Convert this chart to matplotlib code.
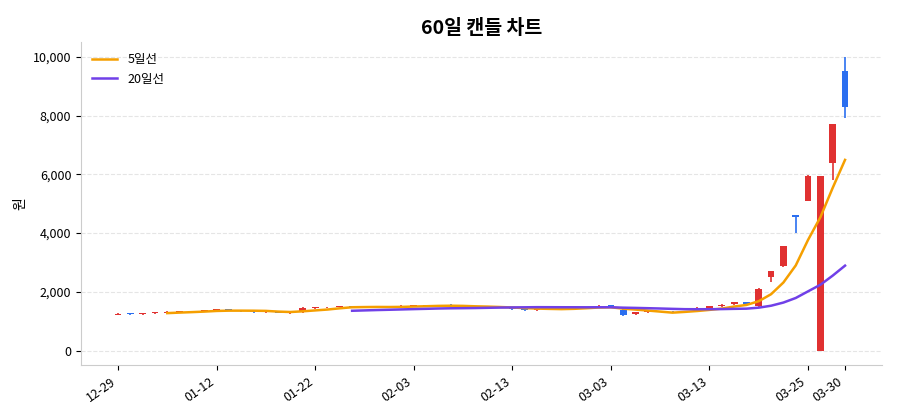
import matplotlib
matplotlib.use("Agg")
import matplotlib.pyplot as plt
import numpy as np
import pandas as pd

plt.rcParams['font.family'] = ['Noto Sans CJK KR', 'DejaVu Sans']

tick_idx = [0, 8, 16, 24, 32, 40, 48, 56, 59]
tick_labels = ["12-29", "01-12", "01-22", "02-03", "02-13", "03-03", "03-13", "03-25", "03-30"]

opens = [1230,1250,1240,1270,1290,1320,1330,1340,1380,1400,1360,1340,1300,1320,1280,1300,1440,1470,1490,1500,
         1500,1490,1480,1470,1520,1530,1550,1560,1500,1490,1480,1500,1460,1420,1380,1420,1420,1460,1460,1490,
         1540,1400,1240,1310,1320,1320,1310,1420,1460,1520,1580,1650,1520,2520,2880,4600,5100,0,6400,9500]
closes = [1250,1240,1270,1300,1330,1340,1320,1360,1410,1380,1340,1310,1330,1290,1310,1460,1460,1480,1500,1490,
          1490,1480,1470,1520,1550,1540,1540,1500,1490,1480,1490,1470,1420,1380,1400,1440,1430,1470,1480,1520,
          1480,1200,1310,1320,1340,1300,1330,1460,1510,1560,1650,1600,2100,2700,3550,4550,5950,5950,7700,8300]
highs = [max(o, c) + 20 for o, c in zip(opens, closes)]
lows = [min(o, c) - 20 for o, c in zip(opens, closes)]
highs[59] = 10000; lows[59] = 7900
lows[58] = 5800; lows[55] = 4000; lows[53] = 2350; lows[54] = 2850; lows[56] = 5100
lows[57] = 0; highs[57] = 5950

up_color = '#e03131'
down_color = '#2b6ff0'

c = pd.Series(closes, dtype=float)
ma5 = c.rolling(5).mean()
ma20 = c.rolling(20).mean()

fig, ax = plt.subplots(figsize=(9, 4.2), dpi=100)
x = np.arange(len(closes))
for i in x:
    o, cl, h, l = opens[i], closes[i], highs[i], lows[i]
    col = up_color if cl >= o else down_color
    ax.vlines(i, l, h, color=col, linewidth=1.2, zorder=2)
    ax.bar(i, max(abs(cl - o), 30), bottom=min(o, cl), width=0.55, color=col, zorder=3)

ax.plot(x, ma5, color='#f59f00', linewidth=1.8, label='5일선', zorder=4)
ax.plot(x, ma20, color='#7040e8', linewidth=1.8, label='20일선', zorder=4)

ax.set_xticks(tick_idx)
ax.set_xticklabels(tick_labels, rotation=35, ha='right', fontsize=9)
ax.set_xlim(-3, 62)
ax.set_ylim(-500, 10500)
ax.set_yticks(range(0, 10001, 2000))
ax.yaxis.set_major_formatter(matplotlib.ticker.FuncFormatter(lambda v, p: f"{int(v):,}"))
ax.tick_params(axis='y', labelsize=9)
ax.set_ylabel("원", fontsize=10)
ax.set_title("60일 캔들 차트", fontsize=14, fontweight='bold')
ax.grid(axis='y', linestyle='--', color='#e5e5e5', linewidth=0.8)
for s in ['top', 'right']:
    ax.spines[s].set_visible(False)
ax.spines['left'].set_color('#cccccc')
ax.spines['bottom'].set_color('#cccccc')
ax.legend(loc='upper left', frameon=False, fontsize=9)
fig.subplots_adjust(left=0.09, right=0.98, top=0.9, bottom=0.13)
fig.savefig("out.png")
